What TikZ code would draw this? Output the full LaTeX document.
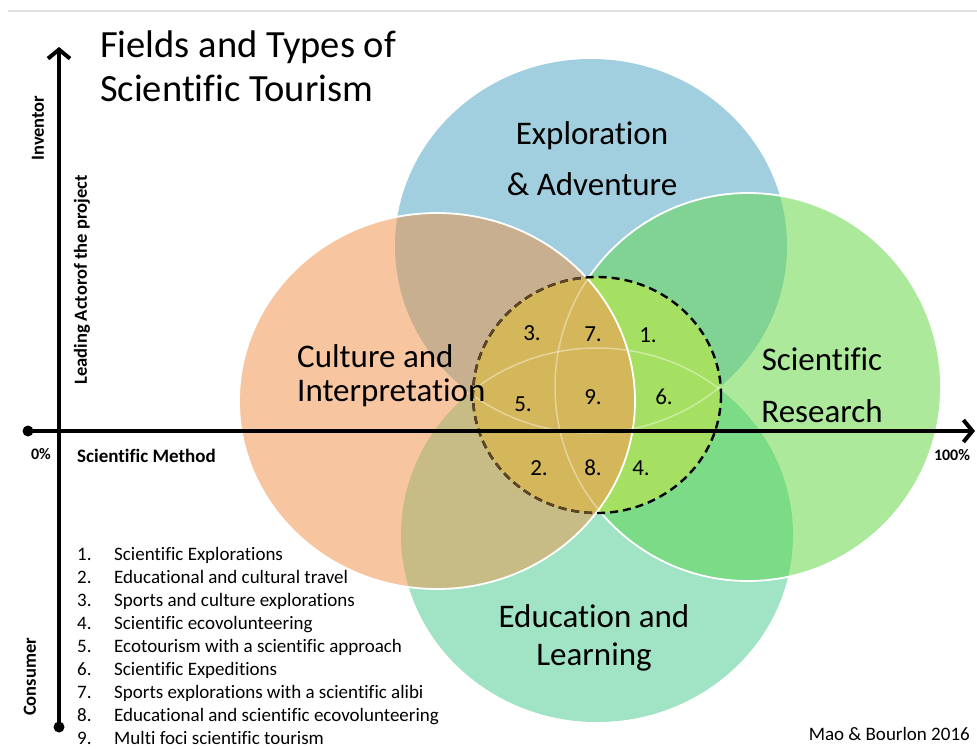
\documentclass[tikz,border=0pt]{standalone}
\usepackage{fontspec}
\setmainfont{Carlito}[Ligatures=NoCommon]
\usetikzlibrary{arrows.meta}

\definecolor{explorecol}{HTML}{A1CFDF}
\definecolor{culturecol}{HTML}{F7C6A0}
\definecolor{researchcol}{HTML}{ACE99B}
\definecolor{educationcol}{HTML}{A0E3C5}
\definecolor{tanmix}{HTML}{C8AF8F}
\definecolor{olivemix}{HTML}{C8BC86}
\definecolor{seamix}{HTML}{80D392}
\definecolor{leafmix}{HTML}{7BDB86}
\definecolor{goldcore}{HTML}{D4B75B}
\definecolor{limecore}{HTML}{A6E062}
\definecolor{dashbrown}{HTML}{5E4526}

% the four fields and the dashed core
\newcommand{\exploreDisc}{(591,246) ellipse [x radius=196, y radius=187]}
\newcommand{\cultureDisc}{(437,401) ellipse [x radius=198, y radius=188]}
\newcommand{\researchDisc}{(748,387) ellipse [x radius=193, y radius=194]}
\newcommand{\educationDisc}{(597,535) ellipse [x radius=196, y radius=187]}
\newcommand{\coreDisc}{(597,395) ellipse [x radius=124, y radius=118]}

\tikzset{
  rim/.style={white, line width=1.8pt},
  faint/.style={white, opacity=0.4, line width=1.5pt},
  coreline/.style={line width=2.4pt, dash pattern=on 8pt off 5pt},
  axisline/.style={line width=4pt, -{Straight Barb[length=9pt, width=22pt]}},
  fieldlabel/.style={anchor=base west, inner sep=0pt, font=\fontsize{33}{40}\selectfont},
  cellnum/.style={font=\fontsize{23}{27}\selectfont},
  axislabel/.style={font=\bfseries\fontsize{18.5}{22}\selectfont},
  listtext/.style={anchor=base west, inner sep=0pt, font=\fontsize{19}{23}\selectfont},
}

\begin{document}
\begin{tikzpicture}[x=1pt, y=-1pt]
	\useasboundingbox (0,0) rectangle (977,748);
	\draw[black!12, line width=1.5pt] (8,11) -- (977,11);

	% fills
	\fill[explorecol] \exploreDisc;
	\fill[educationcol] \educationDisc;
	\fill[culturecol] \cultureDisc;
	\fill[researchcol] \researchDisc;
	\begin{scope}
		\clip \cultureDisc;
		\fill[tanmix] \exploreDisc;
		\fill[olivemix] \educationDisc;
	\end{scope}
	\begin{scope}
		\clip \researchDisc;
		\fill[seamix] \exploreDisc;
		\fill[leafmix] \educationDisc;
	\end{scope}
	\draw[rim] \cultureDisc;
	\draw[rim] \researchDisc;

	% core
	\fill[limecore] \coreDisc;
	\begin{scope}
		\clip \cultureDisc;
		\fill[goldcore] \coreDisc;
	\end{scope}
	\begin{scope}
		\clip \coreDisc;
		\draw[faint] \exploreDisc;
		\draw[faint] \educationDisc;
		\draw[faint] \researchDisc;
		\draw[rim] \cultureDisc;
	\end{scope}
	\draw[coreline] \coreDisc;
	\begin{scope}
		\clip \cultureDisc;
		\draw[coreline, dashbrown] \coreDisc;
	\end{scope}

	% axes
	\coordinate (xstart) at (28,431);
	\coordinate (xtip) at (975,431);
	\coordinate (ystart) at (59,727);
	\coordinate (ytip) at (59,47);
	\draw[axisline] (xstart) -- (xtip);
	\draw[axisline] (ystart) -- (ytip);
	\fill (xstart) circle (5.5);
	\fill (ystart) circle (5.5);

	\node[axislabel, rotate=90] (inventor) at (38,128) {Inventor};
	\node[axislabel, rotate=90] (actor) at (82,280) {Leading Actorof the project};
	\node[axislabel, rotate=90] (consumer) at (30,677) {Consumer};
	\node[axislabel, font=\bfseries\fontsize{16}{19}\selectfont] (zero) at (41,454) {0\%};
	\node[axislabel, font=\bfseries\fontsize{16}{19}\selectfont] (hundred) at (952,455) {100\%};
	\node[axislabel, anchor=base west, inner sep=0pt, font=\bfseries\fontsize{19}{22}\selectfont] (method) at (77,462) {Scientific Method};

	% title
	\node[fieldlabel, font=\fontsize{38.5}{46}\selectfont] (title1) at (100,57) {Fields and Types of};
	\node[fieldlabel, font=\fontsize{38.5}{46}\selectfont] (title2) at (100,101) {Scientific Tourism};

	% field names
	\node[fieldlabel, anchor=base] (explore1) at (592,144) {Exploration};
	\node[fieldlabel, anchor=base] (explore2) at (592,195) {\& Adventure};
	\node[fieldlabel] (culture1) at (297,367) {Culture and};
	\node[fieldlabel] (culture2) at (297,401) {Interpretation};
	\node[fieldlabel, anchor=base] (research1) at (822,370) {Scientific};
	\node[fieldlabel, anchor=base] (research2) at (822,422) {Research};
	\node[fieldlabel, anchor=base] (education1) at (594,627) {Education and};
	\node[fieldlabel, anchor=base] (education2) at (594,665) {Learning};

	% types in the core
	\foreach \n/\px/\py in {3/532/333, 7/593/334, 1/648/335, 5/523/404, 9/593/397, 6/664/397, 2/539/468, 8/593/468, 4/641/468}
		\node[cellnum] (cell\n) at (\px,\py) {\n.};

	% list of types
	\foreach \i/\txt in {1/Scientific Explorations, 2/Educational and cultural travel, 3/Sports and culture explorations, 4/Scientific ecovolunteering, 5/Ecotourism with a scientific approach, 6/Scientific Expeditions, 7/Sports explorations with a scientific alibi, 8/Educational and scientific ecovolunteering, 9/Multi foci scientific tourism}
	{
		\node[listtext] (num\i) at (77,{537+23*\i}) {\i.};
		\node[listtext] (item\i) at (114,{537+23*\i}) {\txt};
	}

	\node[listtext, anchor=base east] (credit) at (970,740) {Mao \& Bourlon 2016};
\end{tikzpicture}
\end{document}
